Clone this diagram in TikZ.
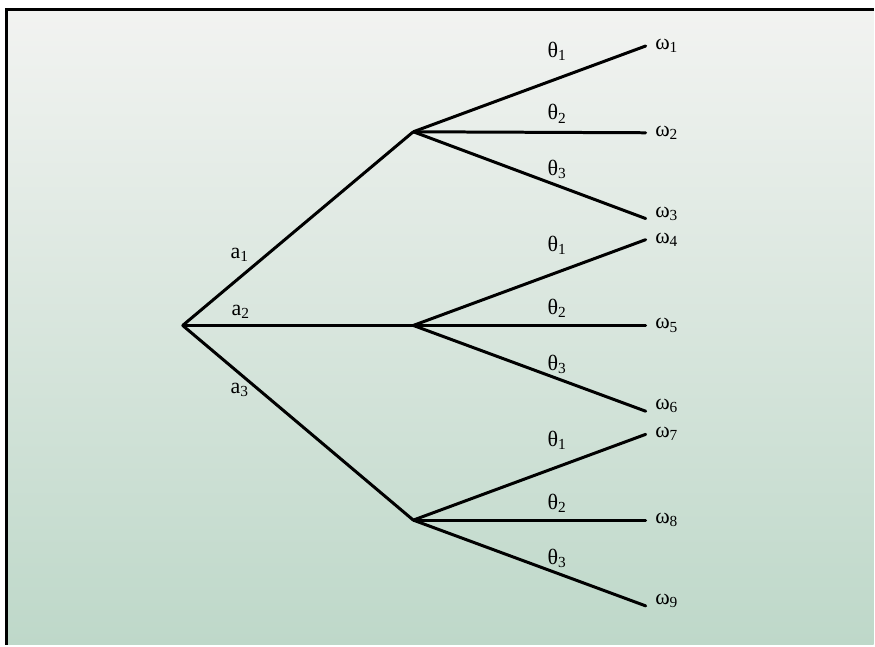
\documentclass[tikz,border=0pt]{standalone}
\usepackage{fontspec}
\setmainfont{Liberation Serif}
\usetikzlibrary{positioning}

\definecolor{bgtop}{RGB}{242,243,241}
\definecolor{bgmid}{RGB}{214,230,222}
\definecolor{bgbot}{RGB}{190,216,201}

\begin{document}
\begin{tikzpicture}[x=1pt,y=-1pt]
\tikzstyle{pt}=[inner sep=0pt, minimum size=0pt];
\tikzstyle{lbl}=[inner sep=1pt, font=\fontsize{22}{24}\selectfont];
\tikzstyle{branch}=[line width=3pt, line cap=round];

% background and frame
\fill[white] (0,0) rectangle (875,646);
\shade[top color=bgtop, middle color=bgmid, bottom color=bgbot] (7,10) rectangle (875,646);
\draw[line width=3pt] (7,646) -- (7,10) -- (875,10);

\draw (183,326) node[pt] (r) {};

\draw (414,132) node[pt] (b1) {};
\draw (414,326) node[pt] (b2) {};
\draw (414,521) node[pt] (b3) {};

\draw (647,46) node[pt] (w1) {};
\draw (647,133) node[pt] (w2) {};
\draw (647,219) node[pt] (w3) {};
\draw (647,240) node[pt] (w4) {};
\draw (647,326) node[pt] (w5) {};
\draw (647,412) node[pt] (w6) {};
\draw (647,435) node[pt] (w7) {};
\draw (647,521) node[pt] (w8) {};
\draw (647,607) node[pt] (w9) {};

\draw[branch] (r) -- (b1);
\draw[branch] (r) -- (b2);
\draw[branch] (r) -- (b3);
\draw[branch] (b1) -- (w1);
\draw[branch] (b1) -- (w2);
\draw[branch] (b1) -- (w3);
\draw[branch] (b2) -- (w4);
\draw[branch] (b2) -- (w5);
\draw[branch] (b2) -- (w6);
\draw[branch] (b3) -- (w7);
\draw[branch] (b3) -- (w8);
\draw[branch] (b3) -- (w9);

\node[lbl] (a1) at (240,255) {a\textsubscript{1}};
\node[lbl] (a2) at (241,312) {a\textsubscript{2}};
\node[lbl] (a3) at (240,391) {a\textsubscript{3}};

\node[lbl] (t11) at (558,51) {θ\textsubscript{1}};
\node[lbl] (t12) at (558,114) {θ\textsubscript{2}};
\node[lbl] (t13) at (558,170) {θ\textsubscript{3}};
\node[lbl] (t21) at (558,246) {θ\textsubscript{1}};
\node[lbl] (t22) at (558,309) {θ\textsubscript{2}};
\node[lbl] (t23) at (558,365) {θ\textsubscript{3}};
\node[lbl] (t31) at (558,441) {θ\textsubscript{1}};
\node[lbl] (t32) at (558,504) {θ\textsubscript{2}};
\node[lbl] (t33) at (558,559) {θ\textsubscript{3}};

\node[lbl, right=8pt of w1] (o1) {ω\textsubscript{1}};
\node[lbl, right=8pt of w2] (o2) {ω\textsubscript{2}};
\node[lbl, right=8pt of w3, yshift=5pt] (o3) {ω\textsubscript{3}};
\node[lbl, right=8pt of w4] (o4) {ω\textsubscript{4}};
\node[lbl, right=8pt of w5] (o5) {ω\textsubscript{5}};
\node[lbl, right=8pt of w6, yshift=5pt] (o6) {ω\textsubscript{6}};
\node[lbl, right=8pt of w7] (o7) {ω\textsubscript{7}};
\node[lbl, right=8pt of w8] (o8) {ω\textsubscript{8}};
\node[lbl, right=8pt of w9, yshift=5pt] (o9) {ω\textsubscript{9}};

\useasboundingbox (0,0) rectangle (875,646);
\end{tikzpicture}
\end{document}
